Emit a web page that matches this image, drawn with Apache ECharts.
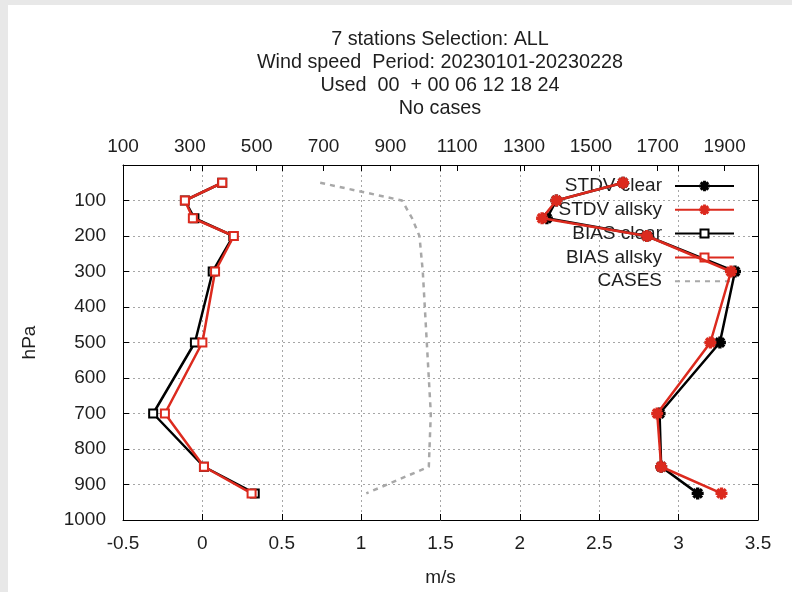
<!DOCTYPE html>
<html><head><meta charset="utf-8">
<script src="https://cdn.jsdelivr.net/npm/echarts@6/dist/echarts.min.js"></script>
<style>html,body{margin:0;padding:0;background:#fff}#c{width:792px;height:592px}</style>
</head><body><div id="c"></div>
<script>
// pressure levels (hPa)
const levels = [50, 100, 150, 200, 300, 500, 700, 850, 925];
// m/s
const stdvClear  = [2.65, 2.23, 2.17, 2.80, 3.355, 3.26, 2.88, 2.89, 3.12];
const stdvAllsky = [2.65, 2.23, 2.14, 2.80, 3.33, 3.20, 2.865, 2.89, 3.27];
const biasClear  = [0.125, -0.11, -0.05, 0.195, 0.065, -0.047, -0.31, 0.01, 0.33];
const biasAllsky = [0.125, -0.11, -0.06, 0.198, 0.08, 0.0, -0.236, 0.01, 0.31];
// number of cases (top axis)
const cases = [690, 935, 965, 987, 997, 1009, 1021, 1015, 828];
const x2Ticks = [100, 300, 500, 700, 900, 1100, 1300, 1500, 1700, 1900];
const titleLines = ['7 stations Selection: ALL', 'Wind speed  Period: 20230101-20230228', 'Used  00  + 00 06 12 18 24', 'No cases'];
const legendNames = ['STDV clear', 'STDV allsky', 'BIAS clear', 'BIAS allsky', 'CASES'];

const FONT = '"Liberation Sans", Arial, sans-serif';
const TXT = '#1e1e1e';
const RED = '#dc2a1e';
const STAR = 'path://M-1.4,-5L1.4,-5L1.4,5L-1.4,5Z M-5,-1.4L5,-1.4L5,1.4L-5,1.4Z M-2.55,-4.52L4.52,2.55L2.55,4.52L-4.52,-2.55Z M-4.52,2.55L2.55,-4.52L4.52,-2.55L-2.55,4.52Z';

const pair = (xs) => xs.map((v, i) => [v, levels[i]]);
const grid = { lineStyle: { color: '#a6a6a6', type: [2, 3], width: 1 } };
const plain = (v) => String(v);
const axisLine = { show: true, onZero: false, lineStyle: { color: '#000', width: 1 } };

const chart = echarts.init(document.getElementById('c'));
chart.setOption({
  backgroundColor: '#fff',
  animation: false,
  grid: { left: 123, right: 34, top: 165, bottom: 71, containLabel: false },
  graphic: [
    { type: 'rect', shape: { x: 0, y: 0, width: 792, height: 5 }, style: { fill: '#e8e8e8' }, silent: true },
    { type: 'rect', shape: { x: 0, y: 0, width: 8, height: 592 }, style: { fill: '#e8e8e8' }, silent: true },
    { type: 'text', x: 440, y: 28.5, style: { text: titleLines.join('\n'), textAlign: 'center', textVerticalAlign: 'top', font: '19.8px ' + FONT, lineHeight: 23, fill: TXT } }
  ],
  legend: legendNames.map((n, i) => ({
    data: [n], right: 57, top: 175 + i * 23.8, align: 'right', orient: 'horizontal',
    itemWidth: 59, itemHeight: n.indexOf('STDV') === 0 ? 13 : 10, selectedMode: false, padding: 0,
    itemStyle: n === 'CASES' ? { opacity: 0 } : {},
    textStyle: { fontSize: 19, fontFamily: FONT, color: TXT, lineHeight: 22, padding: [0, 8, 0, 0] }
  })),
  xAxis: [
    { type: 'value', position: 'bottom', min: -0.5, max: 3.5, interval: 0.5,
      name: 'm/s', nameLocation: 'middle', nameGap: 48,
      nameTextStyle: { fontSize: 19, fontFamily: FONT, color: TXT },
      axisLine: axisLine,
      axisTick: { show: true, inside: true, length: 6, lineStyle: { color: '#000' } },
      axisLabel: { fontSize: 19, fontFamily: FONT, color: TXT, margin: 14, formatter: plain },
      splitLine: Object.assign({ show: true }, grid) },
    { type: 'value', position: 'top', min: 100, max: 2000,
      axisLine: axisLine,
      axisTick: { show: true, inside: true, length: 6, customValues: x2Ticks, lineStyle: { color: '#000' } },
      axisLabel: { fontSize: 19, fontFamily: FONT, color: TXT, margin: 9, customValues: x2Ticks, formatter: plain },
      splitLine: { show: false } },
    { type: 'value', position: 'top', min: -0.5, max: 3.5, interval: 0.5,
      axisLine: { show: false, onZero: false },
      axisTick: { show: true, inside: true, length: 6, lineStyle: { color: '#000' } },
      axisLabel: { show: false }, splitLine: { show: false } }
  ],
  yAxis: [
    { type: 'value', position: 'left', inverse: true, min: 0, max: 1000, interval: 100,
      name: 'hPa', nameLocation: 'middle', nameGap: 84, nameRotate: 90,
      nameTextStyle: { fontSize: 19, fontFamily: FONT, color: TXT },
      axisLine: axisLine,
      axisTick: { show: true, inside: true, length: 6, lineStyle: { color: '#000' } },
      axisLabel: { fontSize: 19, fontFamily: FONT, color: TXT, margin: 17, showMinLabel: false, formatter: plain },
      splitLine: Object.assign({ show: true }, grid) },
    { type: 'value', position: 'right', inverse: true, min: 0, max: 1000, interval: 100,
      axisLine: axisLine,
      axisTick: { show: true, inside: true, length: 6, lineStyle: { color: '#000' } },
      axisLabel: { show: false }, splitLine: { show: false } }
  ],
  series: [
    { name: 'CASES', type: 'line', xAxisIndex: 1, yAxisIndex: 0, data: pair(cases), symbol: 'none',
      lineStyle: { color: '#a8a8a8', width: 2.5, type: [5, 5] }, itemStyle: { color: '#a8a8a8' }, z: 2 },
    { name: 'STDV clear', type: 'line', data: pair(stdvClear), symbol: STAR, symbolSize: 12,
      lineStyle: { color: '#000', width: 2.5 }, itemStyle: { color: '#000' }, z: 3 },
    { name: 'STDV allsky', type: 'line', data: pair(stdvAllsky), symbol: STAR, symbolSize: 12,
      lineStyle: { color: RED, width: 2.5 }, itemStyle: { color: RED }, z: 4 },
    { name: 'BIAS clear', type: 'line', data: pair(biasClear), symbol: 'emptyRect', symbolSize: 8,
      lineStyle: { color: '#000', width: 2.5 }, itemStyle: { color: '#000', borderWidth: 2 }, z: 3 },
    { name: 'BIAS allsky', type: 'line', data: pair(biasAllsky), symbol: 'emptyRect', symbolSize: 8,
      lineStyle: { color: RED, width: 2.5 }, itemStyle: { color: RED, borderWidth: 2 }, z: 4 }
  ]
});
</script></body></html>
